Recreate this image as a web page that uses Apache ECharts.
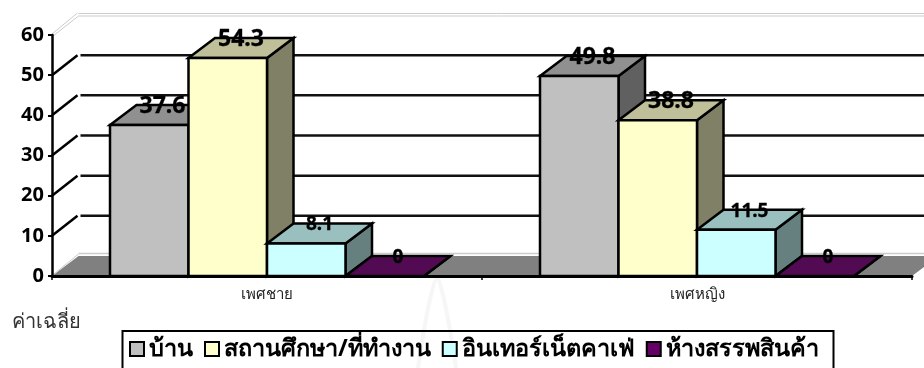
<!DOCTYPE html>
<html><head><meta charset="utf-8">
<style>html,body{margin:0;padding:0;background:#fff}#c{width:924px;height:368px}</style>
<script src="https://cdn.jsdelivr.net/npm/echarts@6/dist/echarts.min.js"></script>
</head><body><div id="c"></div>
<script>
const categories = ['เพศชาย', 'เพศหญิง'];
const seriesNames = ['บ้าน', 'สถานศึกษา/ที่ทำงาน', 'อินเทอร์เน็ตคาเฟ่', 'ห้างสรรพสินค้า'];
const home = [37.6, 49.8];
const school = [54.3, 38.8];
const cafe = [8.1, 11.5];
const mall = [0, 0];
const gridTicks = [10, 20, 30, 40, 50];
const yTitle = 'ค่าเฉลี่ย';

const seriesValues = [home, school, cafe, mall];
const FONT = '"Noto Sans","Open Sans",sans-serif';
const DX = 26.5, DY = 20;
const BAR_RATIO = 78.5 / 430;
const faces = [
  {front:'#C0C0C0', top:'#909090', side:'#606060', fs:23},
  {front:'#FFFFCC', top:'#BFBF99', side:'#808066', fs:23},
  {front:'#CCFFFF', top:'#99BFBF', side:'#668080', fs:19},
  {front:'#660066', top:'#520B52', side:'#4C004C', fs:19}
];
const chart = echarts.init(document.getElementById('c'), null, {renderer:'canvas'});

function poly(points, fill, stroke, lw){
  return {type:'polygon', shape:{points}, style:{fill, stroke, lineWidth:lw, lineJoin:'miter'}};
}
function line(a, b, stroke, lw, z2){
  return {type:'line', shape:{x1:a[0],y1:a[1],x2:b[0],y2:b[1]}, style:{stroke, lineWidth:lw}, z2:z2||0};
}
function barSeries(si){
  const f = faces[si];
  return {
    type:'custom', name:seriesNames[si], z:3, clip:false,
    itemStyle:{color:f.front},
    encode:{x:0,y:1},
    data:seriesValues[si].map((v,i)=>[i,v]),
    renderItem(params, api){
      const c = api.value(0), v = api.value(1);
      const top = api.coord([c, v]), base = api.coord([c, 0]);
      const bw = api.size([1,0])[0] * BAR_RATIO;
      const x0 = top[0] + (si-2)*bw, x1 = x0 + bw;
      const yT = top[1], yB = base[1];
      const children = [
        poly([[x1,yT],[x1+DX,yT-DY],[x1+DX,yB-DY],[x1,yB]], f.side, '#000', 2.5),
        poly([[x0,yT],[x1,yT],[x1+DX,yT-DY],[x0+DX,yT-DY]], f.top, '#000', 2.5)
      ];
      if (v > 0) children.push(poly([[x0,yT],[x1,yT],[x1,yB],[x0,yB]], f.front, '#000', 2.5));
      children.push({type:'text', z2:100, style:{
        text:String(v), x:(x0+x1)/2+DX/2, y:yT-DY+1.5, align:'center', verticalAlign:'middle',
        font:'bold '+f.fs+'px '+FONT, fill:'#000', stroke:'#000', lineWidth:0.3}});
      return {type:'group', children};
    }
  };
}
const wallSeries = {
  type:'custom', name:'wall', z:1, clip:false, silent:true,
  data:gridTicks.map(t=>[0,t]),
  encode:{y:1},
  renderItem(params, api){
    const cs = params.coordSys;
    const y = api.coord([0, api.value(1)])[1];
    return {type:'group', children:[
      line([cs.x, y],[cs.x+DX-1, y-DY],'#000',2.5),
      line([cs.x+DX+2, y-DY],[cs.x+cs.width+DX, y-DY],'#111',2.5)
    ]};
  }
};
const frameSeries = {
  type:'custom', name:'frame', z:1, clip:false, silent:true,
  data:[[0,0]],
  encode:{y:1},
  renderItem(params, api){
    const cs = params.coordSys;
    const yB = api.coord([0,0])[1], yT = api.coord([0,60])[1];
    const L = cs.x, R = cs.x+cs.width, g='#CCCCCC';
    return {type:'group', children:[
      poly([[L,yB],[L+DX,yB-DY],[R+DX,yB-DY],[R,yB]], '#808080', null, 0),
      line([L+2,yB-2],[L+DX,yB-DY-2],g,1),
      line([L+DX,yB-DY-2.5],[R+DX,yB-DY-2.5],g,1.5),
      line([L,yT-1],[L+DX-1,yT-DY-2],g,1),
      line([L+1,yT+1],[L+DX,yT-DY+1],g,1),
      line([L+DX,yT-DY-1.5],[R+DX,yT-DY-1.5],g,1),
      line([L+DX,yT-DY+1],[R+DX,yT-DY+1],g,1)
    ]};
  }
};
chart.setOption({
  animation:false,
  backgroundColor:'#fff',
  grid:{left:52, right:12, top:35, bottom:92, containLabel:false},
  xAxis:{type:'category', data:categories, z:5,
    axisLine:{lineStyle:{color:'#000',width:3}},
    axisTick:{show:true, length:4, lineStyle:{color:'#000',width:1.5}},
    axisLabel:{color:'#222', fontSize:15, margin:11, fontFamily:FONT},
    splitLine:{show:false}},
  yAxis:{type:'value', min:0, max:60, interval:10, z:5,
    axisLine:{show:true,lineStyle:{color:'#000',width:2.5}},
    axisTick:{show:true,length:4,lineStyle:{color:'#000',width:2}},
    axisLabel:{color:'#000', fontWeight:'bold', fontSize:20, margin:8, fontFamily:FONT, padding:[6,0,0,0]},
    splitLine:{show:false}},
  legend:{left:129, top:337, padding:0, itemWidth:14, itemHeight:14, itemGap:11, icon:'rect',
    data:seriesNames,
    selectedMode:false,
    itemStyle:{borderColor:'#000',borderWidth:2},
    textStyle:{color:'#000',fontWeight:'bold',fontSize:23.5,fontFamily:FONT}},
  graphic:[
    {type:'polyline', shape:{points:[[418,368],[424,330],[431,295],[437,278],[443,295],[450,330],[456,368]], smooth:0.3},
      style:{fill:'none',stroke:'#F6F6F6',lineWidth:4}, z:-1, silent:true},
    {type:'rect', shape:{x:122.5,y:331,width:711,height:60}, style:{fill:'none',stroke:'#000',lineWidth:2}, z:0},
    {type:'text', left:12, top:312, style:{text:yTitle, font:'20px '+FONT, fill:'#333'}}
  ],
  series:[frameSeries, wallSeries].concat(seriesNames.map((_,i)=>barSeries(i)))
});
</script></body></html>
